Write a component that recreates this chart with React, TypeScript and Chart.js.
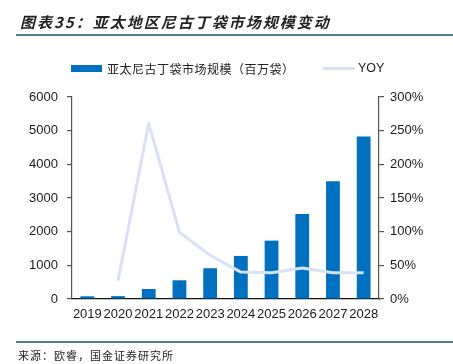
import React, { useEffect, useRef } from "react";
import { Chart, registerables } from "chart.js";

Chart.register(...registerables);

const categories = ["2019", "2020", "2021", "2022", "2023", "2024", "2025", "2026", "2027", "2028"];
const marketSize = [80, 85, 297, 556, 913, 1279, 1734, 2528, 3500, 4828];
const yoyPercent = [null, 27, 261, 99, 65, 40, 39, 46, 39, 39];
const leftTicks = [0, 1000, 2000, 3000, 4000, 5000, 6000];
const rightTicks = [0, 50, 100, 150, 200, 250, 300];

const titleText = "图表35：亚太地区尼古丁袋市场规模变动";
const barLabel = "亚太尼古丁袋市场规模（百万袋）";
const lineLabel = "YOY";
const sourceText = "来源：欧睿，国金证券研究所";

const BAR_COLOR = "#0070c0";
const LINE_COLOR = "#d9e2f4";
const RULE_COLOR = "#4f8191";
const CJK = '"Noto Sans CJK SC", "Noto Sans", sans-serif';
const LATIN = '"Liberation Sans", Arial, sans-serif';

export default function App() {
  const canvasRef = useRef<HTMLCanvasElement | null>(null);

  useEffect(() => {
    const canvas = canvasRef.current;
    if (!canvas) return;
    const chart = new Chart(canvas, {
      type: "bar",
      data: {
        labels: categories,
        datasets: [
          {
            type: "line",
            label: lineLabel,
            data: yoyPercent as any,
            yAxisID: "y1",
            borderColor: LINE_COLOR,
            backgroundColor: LINE_COLOR,
            borderWidth: 3,
            pointRadius: 0,
            tension: 0,
            borderJoinStyle: "round",
            order: 0,
          } as any,
          {
            type: "bar",
            label: barLabel,
            data: marketSize,
            yAxisID: "y",
            backgroundColor: BAR_COLOR,
            categoryPercentage: 1,
            barPercentage: 0.45,
            order: 1,
          },
        ],
      },
      options: {
        responsive: false,
        animation: false,
        devicePixelRatio: 1,
        layout: { padding: { left: 12, right: 0, top: 97, bottom: 31 } },
        plugins: {
          legend: { display: false },
          tooltip: { enabled: false },
          title: { display: false },
        },
        scales: {
          x: {
            grid: { display: false, drawTicks: false },
            border: { display: true, color: "#111", width: 1.2 },
            ticks: {
              color: "#1a1a1a",
              font: { family: LATIN, size: 13 },
              padding: 8,
              maxRotation: 0,
              autoSkip: false,
            },
            afterFit: (s: any) => {
              s.height = 34;
            },
          },
          y: {
            position: "left",
            min: 0,
            max: 6000,
            afterBuildTicks: (s: any) => {
              s.ticks = leftTicks.map((v) => ({ value: v }));
            },
            grid: { drawOnChartArea: false, tickLength: 5, color: "#555", lineWidth: 1.2 },
            border: { display: true, color: "#555", width: 1.2 },
            ticks: {
              color: "#1a1a1a",
              font: { family: LATIN, size: 13 },
              padding: 9,
              callback: (v: any) => String(v),
            },
            afterFit: (s: any) => {
              s.width = 60;
            },
          },
          y1: {
            position: "right",
            min: 0,
            max: 300,
            afterBuildTicks: (s: any) => {
              s.ticks = rightTicks.map((v) => ({ value: v }));
            },
            grid: { drawOnChartArea: false, tickLength: 5, color: "#555", lineWidth: 1.2 },
            border: { display: true, color: "#555", width: 1.2 },
            ticks: {
              color: "#1a1a1a",
              font: { family: LATIN, size: 13 },
              padding: 6,
              callback: (v: any) => `${v}%`,
            },
            afterFit: (s: any) => {
              s.width = 74;
            },
          },
        },
      },
    });
    return () => chart.destroy();
  }, []);

  return (
    <div
      style={{
        position: "absolute",
        left: 0,
        top: 0,
        width: 453,
        height: 364,
        background: "#fff",
        overflow: "hidden",
      }}
    >
      <canvas
        ref={canvasRef}
        width={453}
        height={364}
        style={{ position: "absolute", left: 0, top: 0, width: 453, height: 364 }}
      />
      <div
        style={{
          position: "absolute",
          left: 20,
          top: 14,
          fontFamily: CJK,
          fontSize: 15,
          lineHeight: "15px",
          fontWeight: 700,
          fontStyle: "italic",
          letterSpacing: 2,
          color: "#222",
          whiteSpace: "nowrap",
        }}
      >
        {titleText}
      </div>
      <div style={{ position: "absolute", left: 16, top: 34, width: 437, height: 2, background: RULE_COLOR }} />
      <div style={{ position: "absolute", left: 71, top: 65, width: 31, height: 7, background: BAR_COLOR }} />
      <div
        style={{
          position: "absolute",
          left: 107,
          top: 62,
          fontFamily: CJK,
          fontSize: 12,
          lineHeight: "13px",
          letterSpacing: 0.5,
          color: "#222",
          whiteSpace: "nowrap",
        }}
      >
        {barLabel}
      </div>
      <div style={{ position: "absolute", left: 323, top: 67, width: 32, height: 3, background: LINE_COLOR }} />
      <div
        style={{
          position: "absolute",
          left: 358,
          top: 62,
          fontFamily: LATIN,
          fontSize: 12.5,
          lineHeight: "13px",
          color: "#222",
          whiteSpace: "nowrap",
        }}
      >
        {lineLabel}
      </div>
      <div style={{ position: "absolute", left: 16, top: 341, width: 437, height: 2, background: RULE_COLOR }} />
      <div
        style={{
          position: "absolute",
          left: 18,
          top: 349,
          fontFamily: CJK,
          fontSize: 11,
          lineHeight: "12px",
          letterSpacing: 1,
          color: "#222",
          whiteSpace: "nowrap",
        }}
      >
        {sourceText}
      </div>
    </div>
  );
}
